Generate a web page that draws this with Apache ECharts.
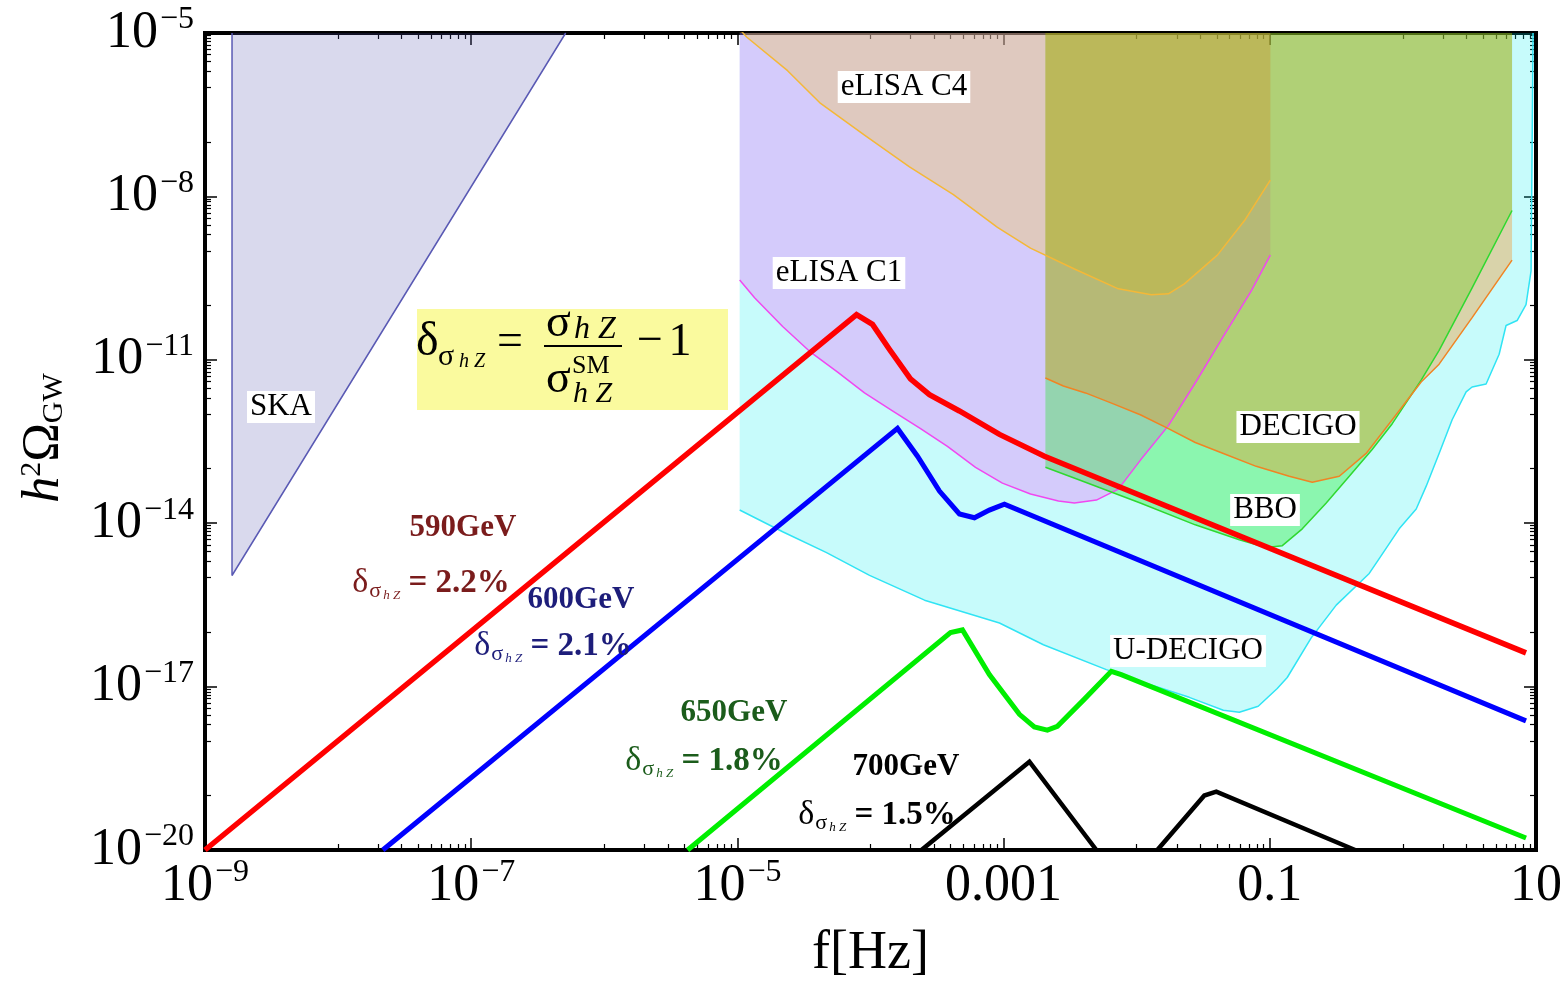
<!DOCTYPE html>
<html>
<head>
<meta charset="utf-8">
<title>GW spectra vs detector sensitivities</title>
<script src="https://cdn.jsdelivr.net/npm/echarts@6.0.0/dist/echarts.min.js"></script>
<style>
html,body{margin:0;padding:0;background:#ffffff;}
#chart{width:1565px;height:986px;}
</style>
</head>
<body>
<div id="chart"></div>
<script>
// ================= DATA (all numbers are log10 of the quantity) =================
// axis ticks
const xTickValues = [-9, -7, -5, -3, -1, 1];
const xTickLabels = [['10','−9'], ['10','−7'], ['10','−5'], ['0.001',''], ['0.1',''], ['10','']];
const yTickValues = [-20, -17, -14, -11, -8, -5];
const yTickLabels = [['10','−20'], ['10','−17'], ['10','−14'], ['10','−11'], ['10','−8'], ['10','−5']];
const subDecadeMultipliers = [2, 3, 4, 5, 6, 7, 8, 9];

// detector sensitivity regions (log10 f [Hz], log10 h^2 Omega)
const skaLogF = [-8.797, -8.797, -6.29];
const skaLogH = [-5.0, -14.96, -5.0];

const udecigoLogF = [-4.983,-4.660,-4.330,-4.007,-3.594,-3.031,-2.701,-2.228,-1.973,-1.605,-1.349,-1.229,-1.087,-0.944,-0.869,-0.689,-0.501,-0.253,-0.178,-0.028,0.100,0.175,0.272,0.370,0.475,0.520,0.625,0.723,0.775,0.858,0.925,0.963,0.978];
const udecigoLogH = [-13.757,-14.157,-14.539,-14.958,-15.413,-15.832,-16.232,-16.688,-16.906,-17.197,-17.434,-17.470,-17.361,-17.034,-16.833,-16.105,-15.504,-14.922,-14.649,-14.103,-13.738,-13.320,-12.719,-12.100,-11.590,-11.499,-11.444,-10.898,-10.370,-10.279,-9.988,-9.369,-5.0];

const elisaC1LogF = [-4.983,-4.871,-4.660,-4.458,-4.247,-4.045,-3.835,-3.624,-3.422,-3.211,-3.009,-2.798,-2.588,-2.468,-2.303,-2.138,-1.973,-1.762,-1.560,-1.349,-1.139,-0.996];
const elisaC1LogH = [-9.533,-9.861,-10.389,-10.844,-11.226,-11.608,-11.936,-12.264,-12.591,-12.974,-13.265,-13.465,-13.593,-13.629,-13.575,-13.374,-12.846,-12.209,-11.426,-10.571,-9.733,-9.078];

const elisaC4LogF = [-4.983,-4.931,-4.623,-4.375,-4.045,-3.707,-3.377,-3.046,-2.798,-2.468,-2.138,-1.890,-1.762,-1.642,-1.394,-1.184,-0.996];
const elisaC4LogH = [-4.93,-5.073,-5.692,-6.293,-6.875,-7.458,-7.967,-8.568,-8.950,-9.333,-9.697,-9.806,-9.788,-9.606,-9.078,-8.423,-7.70];

const bboLogF = [-2.686,-2.385,-1.973,-1.560,-1.229,-1.027,-0.906,-0.756,-0.576,-0.403,-0.231,-0.080,0.137,0.272,0.520,0.820];
const bboLogH = [-12.974,-13.247,-13.629,-14.030,-14.303,-14.448,-14.412,-14.103,-13.629,-13.138,-12.646,-12.173,-11.372,-10.826,-9.679,-8.259];

const decigoLogF = [-2.686,-2.551,-2.385,-2.175,-1.973,-1.762,-1.560,-1.349,-1.102,-0.854,-0.681,-0.478,-0.276,-0.080,0.137,0.272,0.520,0.820];
const decigoLogH = [-11.335,-11.481,-11.608,-11.809,-12.009,-12.264,-12.519,-12.719,-12.956,-13.138,-13.247,-13.138,-12.719,-12.100,-11.408,-11.080,-10.225,-9.169];

// GW spectra for the benchmark points
const gw590LogF = [-9, -4.105, -3.985, -3.857, -3.700, -3.557, -3.332, -3.031, -2.693, 0.925];
const gw590LogH = [-20, -10.17, -10.35, -10.81, -11.35, -11.64, -11.94, -12.37, -12.77, -16.38];

const gw600LogF = [-7.664, -3.797, -3.647, -3.482, -3.332, -3.219, -3.107, -2.994, 0.925];
const gw600LogH = [-20, -12.26, -12.77, -13.41, -13.83, -13.90, -13.76, -13.65, -17.63];

const gw650LogF = [-5.374, -3.399, -3.309, -3.107, -2.881, -2.769, -2.671, -2.596, -2.393, -2.191, -2.116, 0.925];
const gw650LogH = [-20, -16.01, -15.96, -16.78, -17.51, -17.74, -17.80, -17.73, -17.23, -16.72, -16.78, -19.78];

const gw700aLogF = [-3.617, -2.806, -2.303];
const gw700aLogH = [-20, -18.38, -20];
const gw700bLogF = [-1.845, -1.492, -1.402, -0.359];
const gw700bLogH = [-20, -19.0, -18.93, -20];

// annotation texts
const benchmarkMasses = ['590GeV', '600GeV', '650GeV', '700GeV'];
const benchmarkDeltas = ['2.2%', '2.1%', '1.8%', '1.5%'];
const detectorNames = ['SKA', 'eLISA C4', 'eLISA C1', 'DECIGO', 'BBO', 'U-DECIGO'];

// ================= LAYOUT / STYLE =================
const FONT = '"Liberation Serif","Times New Roman",Times,serif';
const benchmarkColors = ['#7a1c1c', '#1d1d7a', '#1b5c1b', '#000000'];
const massLabelPos = [[463, 528], [581, 600], [734, 713], [906, 767]];
const deltaLabelPos = [[431, 583], [553, 646], [704, 761], [877, 815]];
const detectorLabelPos = [[281, 407], [904, 87], [839, 273], [1298, 427], [1265, 510], [1188, 651]];

function pairs(fx, hy) { return fx.map((v, i) => [v, hy[i]]); }

function minorTicks(min, max, major) {
  const out = [];
  for (let n = Math.ceil(min); n <= max; n++) { if (major.indexOf(n) < 0) out.push(n); }
  major.forEach(n => {
    if (n - 1 >= min) subDecadeMultipliers.forEach(k => out.push(n - 1 + Math.log10(k)));
  });
  return out;
}
const xMinor = minorTicks(-9, 1, xTickValues);
const yMinor = minorTicks(-20, -5, yTickValues);

const tickRich = {
  b: { fontFamily: FONT, fontSize: 52, color: '#000', lineHeight: 58 },
  s: { fontFamily: FONT, fontSize: 32, color: '#000', padding: [0, 0, 26, 2] }
};
function tickFormatter(values, labels) {
  return function (v) {
    const i = values.indexOf(Math.round(v));
    if (i < 0) return '';
    const b = labels[i][0], s = labels[i][1];
    return s ? '{b|' + b + '}{s|' + s + '}' : '{b|' + b + '}';
  };
}

const frameLine = { show: true, onZero: false, lineStyle: { color: '#000', width: 4, cap: 'square' } };
const hiddenLine = { show: false, onZero: false };
const majorTick = { show: true, inside: true, length: 12, lineStyle: { color: '#000', width: 1.5 } };

function xAxisDef(position, main, withLabels) {
  return {
    type: 'value', min: -9, max: 1, interval: 2, position: position,
    axisLine: main ? frameLine : hiddenLine,
    axisTick: main ? majorTick : { show: true, inside: true, length: 6, customValues: xMinor, lineStyle: { color: '#000', width: 1.2 } },
    axisLabel: withLabels ? { show: true, margin: 7, formatter: tickFormatter(xTickValues, xTickLabels), rich: tickRich } : { show: false },
    splitLine: { show: false }
  };
}
function yAxisDef(position, main, withLabels) {
  return {
    type: 'value', min: -20, max: -5, interval: 3, position: position,
    axisLine: main ? frameLine : hiddenLine,
    axisTick: main ? majorTick : { show: true, inside: true, length: 6, customValues: yMinor, lineStyle: { color: '#000', width: 1.2 } },
    axisLabel: withLabels ? { show: true, margin: 11, formatter: tickFormatter(yTickValues, yTickLabels), rich: tickRich } : { show: false },
    splitLine: { show: false }
  };
}

const xMain = xAxisDef('bottom', true, true);
xMain.name = 'f[Hz]';
xMain.nameLocation = 'middle';
xMain.nameGap = 104;
xMain.nameTextStyle = { fontFamily: FONT, fontSize: 54, color: '#000', verticalAlign: 'middle' };

function region(fx, hy, fill, line, lw) {
  return {
    type: 'line', data: pairs(fx, hy), xAxisIndex: 0, yAxisIndex: 0,
    symbol: 'none', smooth: false, silent: true, clip: true, animation: false,
    lineStyle: { color: line, width: lw },
    areaStyle: { color: fill, origin: 'end', opacity: 1 }
  };
}
function spectrum(fx, hy, color, w) {
  return {
    type: 'line', data: pairs(fx, hy), xAxisIndex: 0, yAxisIndex: 0,
    symbol: 'none', smooth: false, silent: true, clip: true, animation: false,
    lineStyle: { color: color, width: w, join: 'miter' }
  };
}

// ---------- graphic annotations ----------
function txt(x, y, text, size, extra) {
  const style = { text: text, fontFamily: FONT, fontSize: size, fill: '#000', align: 'left', verticalAlign: 'middle' };
  if (extra) Object.keys(extra).forEach(k => { style[k] = extra[k]; });
  return { type: 'text', x: x, y: y, z: 120, silent: true, style: style };
}

const graphics = [];
// detector labels
detectorNames.forEach((n, i) => {
  graphics.push(txt(detectorLabelPos[i][0], detectorLabelPos[i][1], n, 31,
    { align: 'center', backgroundColor: '#ffffff', padding: [1, 3, 0, 3] }));
});
// benchmark labels
benchmarkMasses.forEach((m, i) => {
  const c = benchmarkColors[i];
  graphics.push(txt(massLabelPos[i][0], massLabelPos[i][1], m, 31, { align: 'center', fill: c, fontWeight: 'bold' }));
  graphics.push({
    type: 'text', x: deltaLabelPos[i][0], y: deltaLabelPos[i][1], z: 120, silent: true,
    style: {
      text: '{d|δ}{s|σ}{h|h Z}{t| = ' + benchmarkDeltas[i] + '}',
      align: 'center', verticalAlign: 'middle', fill: c, fontFamily: FONT, fontSize: 32,
      rich: {
        d: { fontFamily: FONT, fontSize: 34, fill: c, color: c },
        s: { fontFamily: FONT, fontSize: 22, fill: c, color: c, padding: [16, 0, 0, 1] },
        h: { fontFamily: FONT, fontSize: 13, fontStyle: 'italic', fill: c, color: c, padding: [26, 0, 0, 2] },
        t: { fontFamily: FONT, fontSize: 33, fontWeight: 'bold', fill: c, color: c }
      }
    }
  });
});
// formula box
graphics.push({ type: 'rect', z: 110, silent: true, shape: { x: 417, y: 309, width: 311, height: 101 }, style: { fill: '#fafa9e' } });
graphics.push(txt(416, 342.5, 'δ', 48));
graphics.push(txt(438, 357, 'σ', 30));
graphics.push(txt(459, 362, 'h Z', 20, { fontStyle: 'italic' }));
graphics.push(txt(510, 342.5, '=', 46, { align: 'center' }));
graphics.push(txt(546, 323.5, 'σ', 46));
graphics.push(txt(574, 330, 'h Z', 32, { fontStyle: 'italic' }));
graphics.push({ type: 'rect', z: 120, silent: true, shape: { x: 544, y: 345, width: 78, height: 2 }, style: { fill: '#000' } });
graphics.push(txt(546, 379.5, 'σ', 46));
graphics.push(txt(572, 366, 'SM', 26));
graphics.push(txt(573, 394, 'h Z', 30, { fontStyle: 'italic' }));
graphics.push(txt(650, 342, '−', 46, { align: 'center' }));
graphics.push(txt(680, 342.5, '1', 46, { align: 'center' }));
// y axis name
graphics.push({
  type: 'text', x: 44, y: 438, rotation: Math.PI / 2, z: 120, silent: true,
  style: {
    text: '{i|h}{p|2}{o|Ω}{g|GW}', align: 'center', verticalAlign: 'middle', fontFamily: FONT, fontSize: 52, fill: '#000',
    rich: {
      i: { fontFamily: FONT, fontSize: 52, fontStyle: 'italic', color: '#000' },
      p: { fontFamily: FONT, fontSize: 30, color: '#000', padding: [0, 0, 24, 0] },
      o: { fontFamily: FONT, fontSize: 52, color: '#000' },
      g: { fontFamily: FONT, fontSize: 30, color: '#000', padding: [20, 0, 0, 0] }
    }
  }
});

const option = {
  animation: false,
  backgroundColor: '#ffffff',
  grid: { left: 205, right: 28, top: 33, bottom: 129, containLabel: false },
  xAxis: [xMain, xAxisDef('bottom', false, false), xAxisDef('top', true, false), xAxisDef('top', false, false)],
  yAxis: [yAxisDef('left', true, true), yAxisDef('left', false, false), yAxisDef('right', true, false), yAxisDef('right', false, false)],
  series: [
    region(udecigoLogF, udecigoLogH, 'rgba(0,238,238,0.22)', '#30e4f4', 1.5),
    region(elisaC1LogF, elisaC1LogH, 'rgba(252,60,252,0.25)', '#f048f0', 1.5),
    region(elisaC4LogF, elisaC4LogH, 'rgba(250,200,52,0.30)', '#f4b838', 1.5),
    region(bboLogF, bboLogH, 'rgba(0,236,0,0.30)', '#30d830', 1.5),
    region(decigoLogF, decigoLogH, 'rgba(255,128,0,0.32)', '#f08424', 1.5),
    region(skaLogF, skaLogH, 'rgba(80,80,172,0.22)', '#5a5ab4', 1.5),
    spectrum(gw590LogF, gw590LogH, '#ff0000', 5.5),
    spectrum(gw600LogF, gw600LogH, '#0000ff', 5),
    spectrum(gw650LogF, gw650LogH, '#00ee00', 5),
    spectrum(gw700aLogF, gw700aLogH, '#000000', 4.5),
    spectrum(gw700bLogF, gw700bLogH, '#000000', 4.5)
  ],
  graphic: graphics
};

const chart = echarts.init(document.getElementById('chart'), null, { renderer: 'canvas' });
chart.setOption(option);
</script>
</body>
</html>
